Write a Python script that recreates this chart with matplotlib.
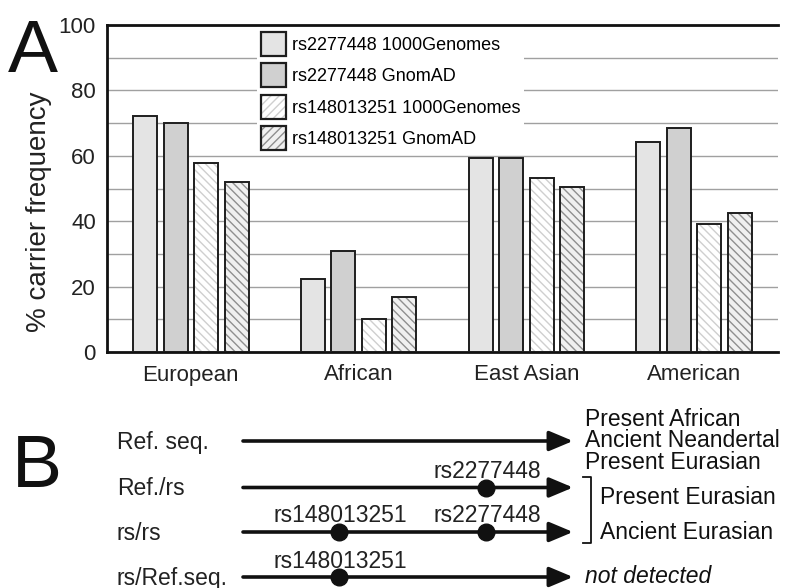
import matplotlib
matplotlib.use('Agg')
import matplotlib.pyplot as plt
from matplotlib.patches import Patch, Rectangle
import numpy as np

plt.rcParams['font.family'] = ['Liberation Sans', 'DejaVu Sans']
plt.rcParams['hatch.linewidth'] = 1.0

# panel A data: % carrier frequency per population
populations = ['European', 'African', 'East Asian', 'American']
rs2277448_1000g = [72.2, 22.3, 59.4, 64.2]
rs2277448_gnomad = [70.0, 31.0, 59.4, 68.6]
rs148013251_1000g = [57.8, 10.0, 53.3, 39.1]
rs148013251_gnomad = [52.0, 16.7, 50.5, 42.4]
series_labels = ['rs2277448 1000Genomes', 'rs2277448 GnomAD',
                 'rs148013251 1000Genomes', 'rs148013251 GnomAD']
yticks = [0, 20, 40, 60, 80, 100]

# panel B data: haplotypes, SNP positions along the sequence (0..1)
haplotypes = ['Ref. seq.', 'Ref./rs', 'rs/rs', 'rs/Ref.seq.']
snp_pos = {'rs148013251': 0.29, 'rs2277448': 0.735}
hap_snps = [[], ['rs2277448'], ['rs148013251', 'rs2277448'], ['rs148013251']]

fig = plt.figure(figsize=(7.9, 5.88), dpi=100)
ax = fig.add_axes([107/790, 1-352/588, 671/790, 327/588])

x = np.arange(len(populations))
w = 0.143
off = 0.182
styles = [
    dict(face='#e4e4e4', hatch=None, hcol='#e4e4e4'),
    dict(face='#d0d0d0', hatch=None, hcol='#d0d0d0'),
    dict(face='#ffffff', hatch='\\\\\\\\', hcol='#cfcfcf'),
    dict(face='#f0f0f0', hatch='\\\\\\\\', hcol='#8f8f8f'),
]
all_vals = [rs2277448_1000g, rs2277448_gnomad, rs148013251_1000g, rs148013251_gnomad]
handles = []
for i, (vals, st) in enumerate(zip(all_vals, styles)):
    pos = x + (i - 1.5) * off
    ax.bar(pos, vals, w, color=st['face'], hatch=st['hatch'],
           edgecolor=st['hcol'], linewidth=0, zorder=2)
    ax.bar(pos, vals, w, fill=False, edgecolor='#1e1e1e', linewidth=1.4, zorder=3)
    h1 = Patch(facecolor=st['face'], edgecolor=st['hcol'], linewidth=0,
               hatch=None if st['hatch'] is None else '////')
    h2 = Patch(fill=False, edgecolor='#1e1e1e', linewidth=1.6)
    handles.append((h1, h2))

ax.set_xlim(-0.5, 3.5)
ax.set_ylim(0, 100)
ax.set_yticks(yticks)
ax.set_yticks(range(10, 100, 20), minor=True)
ax.set_xticks(x)
ax.set_xticklabels(populations, fontsize=16, color='#222')
ax.tick_params(axis='y', labelsize=16, labelcolor='#222', length=0, pad=8, which='both')
ax.tick_params(axis='x', length=0, pad=9)
ax.set_axisbelow(True)
ax.grid(axis='y', which='both', color='#a0a0a0', linewidth=1.0)
ax.spines['right'].set_visible(False)
for s in ['left', 'bottom', 'top']:
    ax.spines[s].set_linewidth(2.0)
    ax.spines[s].set_color('#111')
ax.set_ylabel('% carrier frequency', fontsize=20, color='#222')
ax.yaxis.set_label_coords(-0.082, 0.43)

# white background behind the legend
ax.add_patch(Rectangle((0.2235, 0.618), 0.398, 0.38, transform=ax.transAxes,
                       facecolor='white', edgecolor='none', zorder=1.5))
fig.legend(handles, series_labels, loc='upper left',
           bbox_to_anchor=(261/790, 1-32/588), frameon=False, fontsize=13,
           handlelength=1.4, handleheight=1.65, handletextpad=0.3,
           labelspacing=0.42, borderpad=0, borderaxespad=0)

# overlay axes in pixel coordinates for letters and panel B
ov = fig.add_axes([0, 0, 1, 1], zorder=5)
ov.set_xlim(0, 790)
ov.set_ylim(588, 0)
ov.axis('off')
ov.patch.set_alpha(0)

ov.text(8, 72, 'A', fontsize=54, va='baseline', color='#111')
ov.text(12, 487, 'B', fontsize=54, va='baseline', color='#111')

seq_x0, seq_x1 = 243, 573
row_y = [441, 487.5, 532, 577]
for name, y, snps in zip(haplotypes, row_y, hap_snps):
    ov.text(117, y + 7.5, name, fontsize=16.5, va='baseline', color='#222')
    ov.annotate('', xy=(seq_x1, y), xytext=(seq_x0, y),
                arrowprops=dict(arrowstyle='-|>,head_length=1.0,head_width=0.42',
                                lw=2.6, color='#111', shrinkA=0, shrinkB=0,
                                mutation_scale=14.4))
    for s in snps:
        sx = seq_x0 + snp_pos[s] * (seq_x1 - seq_x0)
        ov.plot(sx, y, 'o', ms=12, color='#111', zorder=6)
        ov.text(sx + 2, y - 9.5, s, fontsize=16.5, ha='center', va='baseline', color='#222')

ov.text(585, 469, 'Present African\nAncient Neandertal\nPresent Eurasian',
        fontsize=16.5, va='baseline', linespacing=0.92, color='#111')
ov.plot([583, 591, 591, 583], [477, 477, 543, 543], color='#111', lw=1.3)
ov.text(600, 504, 'Present Eurasian', fontsize=16.5, va='baseline', color='#111')
ov.text(600, 539, 'Ancient Eurasian', fontsize=16.5, va='baseline', color='#111')
ov.text(585, 583, 'not detected', fontsize=16.5, va='baseline', style='italic', color='#111')

fig.savefig('out.png', dpi=100)
